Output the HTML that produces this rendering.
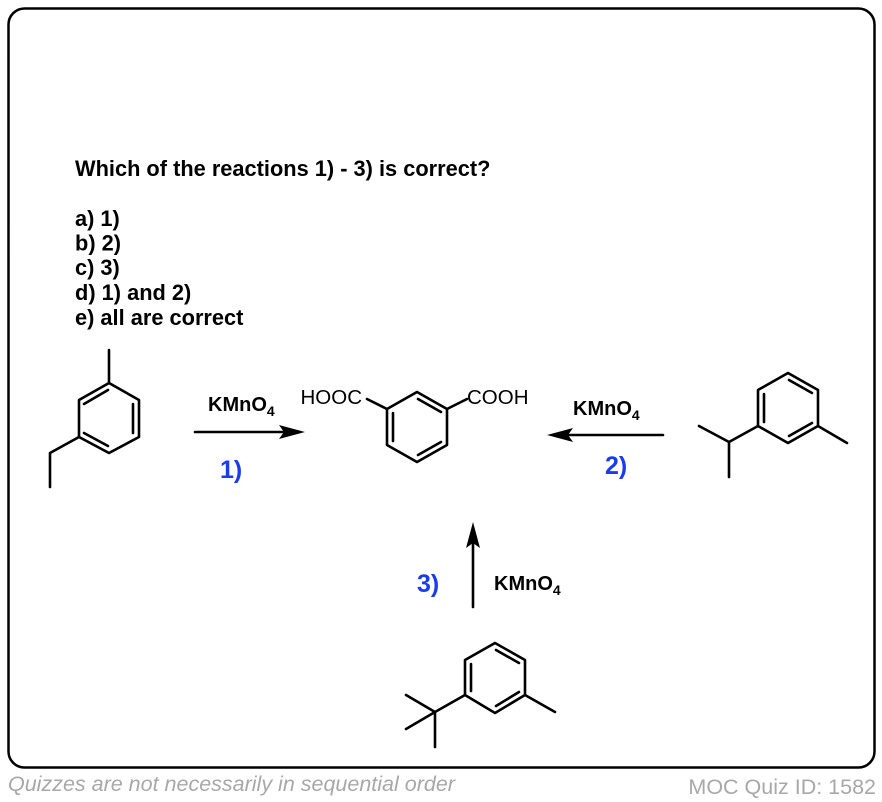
<!DOCTYPE html>
<html><head><style>
body{margin:0;background:#fff;}
svg{display:block;font-family:"Liberation Sans",Arial,sans-serif;}
</style></head><body>
<svg width="882" height="802" viewBox="0 0 882 802">
<rect x="8.5" y="8.5" width="866" height="759" rx="16" fill="#fff" stroke="#000" stroke-width="2.5"/>
<g font-weight="bold" font-size="21.8" fill="#000">
<text x="75" y="176">Which of the reactions 1) - 3) is correct?</text>
<text x="75" y="226">a) 1)</text>
<text x="75" y="250.5">b) 2)</text>
<text x="75" y="275">c) 3)</text>
<text x="75" y="300">d) 1) and 2)</text>
<text x="75" y="325">e) all are correct</text>
</g>
<g stroke="#000" stroke-width="2.6" fill="none" stroke-linecap="round" stroke-linejoin="round">
<!-- left molecule -->
<polygon points="109,383 139,400 139,437 109,453 79,437 79,400"/>
<line x1="109" y1="383" x2="109" y2="350"/>
<polyline points="79,437 50,453 50,487"/>
<line x1="108" y1="390" x2="84" y2="404"/>
<line x1="133" y1="404" x2="133" y2="433"/>
<line x1="84" y1="433" x2="108" y2="446"/>
<!-- middle -->
<polygon points="417,392 447,409 447,445 417,462 387,445 387,409"/>
<line x1="447" y1="409" x2="467" y2="399"/>
<line x1="387" y1="409" x2="367" y2="399"/>
<line x1="418" y1="399" x2="441" y2="412"/>
<line x1="393" y1="413" x2="393" y2="441"/>
<line x1="418" y1="455" x2="441" y2="442"/>
<!-- right -->
<polygon points="788,373 818,390 818,426 788,443 758,426 758,390"/>
<line x1="818" y1="426" x2="847" y2="443"/>
<polyline points="758,426 729,442 699,426"/>
<line x1="729" y1="442" x2="729" y2="477"/>
<line x1="789" y1="380" x2="812" y2="393"/>
<line x1="764" y1="394" x2="764" y2="422"/>
<line x1="789" y1="436" x2="812" y2="423"/>
<!-- bottom -->
<polygon points="495,643 525,660 525,695 495,713 465,695 465,660"/>
<line x1="525" y1="695" x2="555" y2="712"/>
<line x1="465" y1="695" x2="435" y2="712"/>
<line x1="435" y1="712" x2="406" y2="695"/>
<line x1="435" y1="712" x2="406" y2="729"/>
<line x1="435" y1="712" x2="435" y2="747"/>
<line x1="496" y1="650" x2="519" y2="663"/>
<line x1="471" y1="664" x2="471" y2="691"/>
<line x1="496" y1="706" x2="519" y2="692"/>
<!-- arrows -->
<line x1="195" y1="432" x2="290" y2="432"/>
<line x1="663" y1="435" x2="562" y2="435"/>
<line x1="473" y1="607" x2="473" y2="537"/>
</g>
<g fill="#000">
<polygon points="305,432 279,425 284,432 279,439"/>
<polygon points="547,435 573,428 568,435 573,442"/>
<polygon points="473,522 466,548 473,543 480,548"/>
</g>
<g font-size="20.5" fill="#000">
<text x="362" y="404" text-anchor="end">HOOC</text>
<text x="467" y="404">COOH</text>
</g>
<g font-weight="bold" font-size="20" fill="#000">
<text x="208" y="411">KMnO<tspan font-size="14" dy="5">4</tspan></text>
<text x="573" y="415">KMnO<tspan font-size="14" dy="5">4</tspan></text>
<text x="494" y="590">KMnO<tspan font-size="14" dy="5">4</tspan></text>
</g>
<g font-weight="bold" font-size="25" fill="#1a3cf0">
<text x="220" y="478">1)</text>
<text x="605" y="474">2)</text>
<text x="417" y="592">3)</text>
</g>
<text x="8" y="791" font-size="21.5" font-style="italic" fill="#a8a8a8">Quizzes are not necessarily in sequential order</text>
<text x="876" y="794" font-size="21.5" fill="#a8a8a8" text-anchor="end">MOC Quiz ID: 1582</text>
</svg>
</body></html>
